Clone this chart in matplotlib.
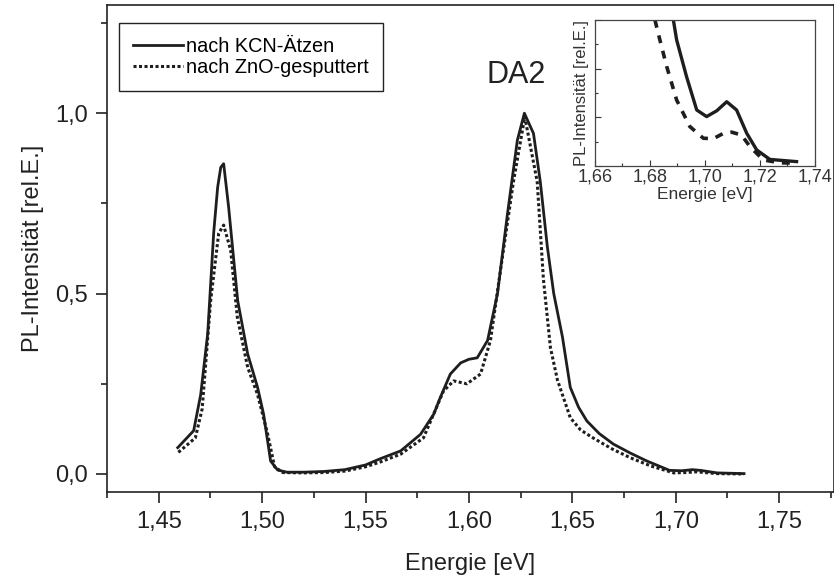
import matplotlib.pyplot as plt
from matplotlib.ticker import MultipleLocator, FuncFormatter

plt.rcParams['font.family'] = ['Liberation Sans', 'DejaVu Sans']

# main spectrum, after KCN etching (solid)
e_kcn = [1.4592, 1.4669, 1.4703, 1.4737, 1.4766, 1.4785, 1.4800, 1.4814, 1.4838,
         1.4882, 1.4930, 1.4978, 1.5007, 1.5041, 1.5075, 1.5120, 1.5200, 1.5300,
         1.5400, 1.5500, 1.5570, 1.5670, 1.5766, 1.5830, 1.5860, 1.5910, 1.5960,
         1.6000, 1.6040, 1.6090, 1.6138, 1.6186, 1.6234, 1.6268, 1.6312, 1.6345,
         1.6379, 1.6410, 1.6452, 1.6490, 1.6530, 1.6570, 1.6630, 1.6698, 1.6780,
         1.6860, 1.6970, 1.7030, 1.7080, 1.7120, 1.7200, 1.7330]
i_kcn = [0.073, 0.120, 0.220, 0.390, 0.670, 0.795, 0.850, 0.860, 0.740,
         0.480, 0.333, 0.240, 0.166, 0.036, 0.011, 0.005, 0.005, 0.007,
         0.012, 0.025, 0.042, 0.064, 0.110, 0.166, 0.210, 0.277, 0.308,
         0.318, 0.322, 0.370, 0.500, 0.720, 0.925, 1.000, 0.944, 0.810,
         0.630, 0.500, 0.380, 0.240, 0.185, 0.147, 0.112, 0.083, 0.058,
         0.036, 0.010, 0.009, 0.012, 0.010, 0.003, 0.001]

# main spectrum, after ZnO sputtering (dotted)
e_zno = [1.4595, 1.4677, 1.4710, 1.4751, 1.4790, 1.4814, 1.4848, 1.4880, 1.4930,
         1.4978, 1.5027, 1.5060, 1.5100, 1.5200, 1.5300, 1.5400, 1.5500, 1.5570,
         1.5670, 1.5780, 1.5877, 1.5926, 1.5990, 1.6056, 1.6104, 1.6150, 1.6215,
         1.6270, 1.6330, 1.6360, 1.6394, 1.6428, 1.6490, 1.6540, 1.6600, 1.6690,
         1.6780, 1.6880, 1.6990, 1.7050, 1.7100, 1.7200, 1.7330]
i_zno = [0.060, 0.100, 0.180, 0.480, 0.667, 0.690, 0.620, 0.435, 0.296,
         0.220, 0.110, 0.020, 0.004, 0.003, 0.004, 0.008, 0.020, 0.033,
         0.055, 0.100, 0.230, 0.258, 0.250, 0.277, 0.370, 0.555, 0.810,
         0.990, 0.810, 0.540, 0.350, 0.260, 0.156, 0.122, 0.100, 0.070,
         0.045, 0.022, 0.003, 0.004, 0.006, 0.001, 0.000]

# inset, zoom on the high-energy tail
e_kcn_in = [1.6885, 1.6897, 1.6933, 1.6970, 1.7006, 1.7043, 1.7079, 1.7115,
            1.7152, 1.7188, 1.7236, 1.7333]
i_kcn_in = [0.0600, 0.0518, 0.0367, 0.0230, 0.0203, 0.0227, 0.0264, 0.0230,
            0.0134, 0.0066, 0.0027, 0.0018]
e_zno_in = [1.6818, 1.6836, 1.6861, 1.6897, 1.6945, 1.6994, 1.7030, 1.7067,
            1.7097, 1.7133, 1.7164, 1.7212, 1.7273, 1.7327]
i_zno_in = [0.0600, 0.0518, 0.0408, 0.0271, 0.0162, 0.0114, 0.0112, 0.0134,
            0.0139, 0.0127, 0.0079, 0.0025, 0.0013, 0.0012]

col = '#1e1e1e'
comma = FuncFormatter(lambda v, p: ('%.2f' % v).replace('.', ','))
comma1 = FuncFormatter(lambda v, p: ('%.1f' % v).replace('.', ','))

fig = plt.figure(figsize=(8.34, 5.82), dpi=100)
ax = fig.add_axes([0.1283, 0.1546, 0.8717, 0.8368])

ax.plot(e_kcn, i_kcn, color=col, lw=2.0, label='nach KCN-Ätzen')
ax.plot(e_zno, i_zno, color=col, lw=2.2, ls=(0, (1, 0.8)), label='nach ZnO-gesputtert')

ax.set_xlim(1.425, 1.7765)
ax.set_ylim(-0.05, 1.3)
ax.xaxis.set_major_locator(MultipleLocator(0.05))
ax.xaxis.set_minor_locator(MultipleLocator(0.025))
ax.yaxis.set_major_locator(MultipleLocator(0.5))
ax.yaxis.set_minor_locator(MultipleLocator(0.25))
ax.xaxis.set_major_formatter(comma)
ax.yaxis.set_major_formatter(comma1)
ax.tick_params(which='major', length=8, width=1.2, labelsize=17, colors='#222222', pad=6)
ax.tick_params(which='minor', length=4, width=1.2, colors='#222222')
for s in ax.spines.values():
    s.set_linewidth(1.2)
    s.set_color('#222222')

ax.set_xlabel('Energie [eV]', fontsize=17, color='#222222', labelpad=14)
ax.set_ylabel('PL-Intensität [rel.E.]', fontsize=17, color='#222222', labelpad=8)
ax.text(1.637, 1.083, 'DA2', fontsize=22, color='#222222', ha='right', va='baseline')

leg = ax.legend(loc='upper left', bbox_to_anchor=(0.017, 0.963), fontsize=14.3,
                frameon=True, fancybox=False, edgecolor='#222222', framealpha=1,
                handlelength=2.5, handletextpad=0.15, borderpad=0.7,
                labelspacing=0.1, borderaxespad=0)
leg.get_frame().set_linewidth(1.0)

# inset
axi = fig.add_axes([0.7134, 0.7148, 0.2638, 0.2509])
axi.plot(e_kcn_in, i_kcn_in, color=col, lw=2.4)
axi.plot(e_zno_in, i_zno_in, color=col, lw=2.6, ls=(0, (2.2, 2.2)))
axi.set_xlim(1.66, 1.74)
axi.set_ylim(0, 0.06)
axi.xaxis.set_major_locator(MultipleLocator(0.02))
axi.xaxis.set_minor_locator(MultipleLocator(0.01))
axi.yaxis.set_major_locator(MultipleLocator(0.02))
axi.yaxis.set_minor_locator(MultipleLocator(0.01))
axi.xaxis.set_major_formatter(comma)
axi.tick_params(which='both', direction='in', colors='#333333', labelsize=13, pad=2)
axi.tick_params(which='major', length=4, width=0.8)
axi.tick_params(which='minor', length=2, width=0.8)
axi.tick_params(axis='y', labelleft=False)
for s in axi.spines.values():
    s.set_linewidth(0.9)
    s.set_color('#444444')
axi.set_xlabel('Energie [eV]', fontsize=12.5, color='#333333', labelpad=1)
axi.set_ylabel('PL-Intensität [rel.E.]', fontsize=12, color='#333333', labelpad=2)

fig.savefig('out.png', dpi=100)
